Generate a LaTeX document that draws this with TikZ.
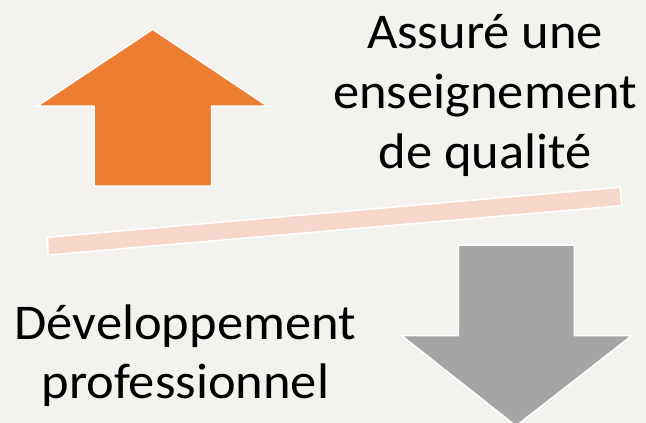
\documentclass[tikz,border=0pt]{standalone}
\usepackage{fontspec}
\setmainfont{Carlito}[FakeStretch = 1.05]

\definecolor{paper}{HTML}{F4F2EE}
\definecolor{uporange}{HTML}{ED7D31}
\definecolor{downgray}{HTML}{A5A5A5}
\definecolor{barpink}{HTML}{F7D6CC}

\begin{document}
\begin{tikzpicture}[x = 1pt, y = -1pt]
\fill[paper] (0, 0) rectangle (646, 423);
\useasboundingbox (0, 0) rectangle (646, 423);

\fill[uporange, draw = white, line width = 1.5pt] (152.7, 29.3) -- (267.3, 106) -- (211.7, 106) -- (211.7, 186) -- (94, 186) -- (94, 106) -- (37.3, 106) -- cycle;

\fill[downgray, draw = white, line width = 1.5pt] (458.3, 245) -- (574.3, 245) -- (574.3, 335.7) -- (631.7, 335.7) -- (516, 426) -- (401.7, 335.7) -- (458.3, 335.7) -- cycle;

\fill[barpink, draw = white, line width = 1.5pt] (47.3, 237.3) -- (620, 187.3) -- (621.7, 205.7) -- (48.3, 255) -- cycle;

\node[anchor = base, align = center, font = \fontsize{50}{60}\selectfont, inner sep = 0pt] (qualite) at (485, 168) {Assuré une\\enseignement\\de qualité};
\node[anchor = base, align = center, font = \fontsize{50}{59}\selectfont, inner sep = 0pt] (devpro) at (185.3, 398) {Développement\\professionnel};

\end{tikzpicture}
\end{document}
